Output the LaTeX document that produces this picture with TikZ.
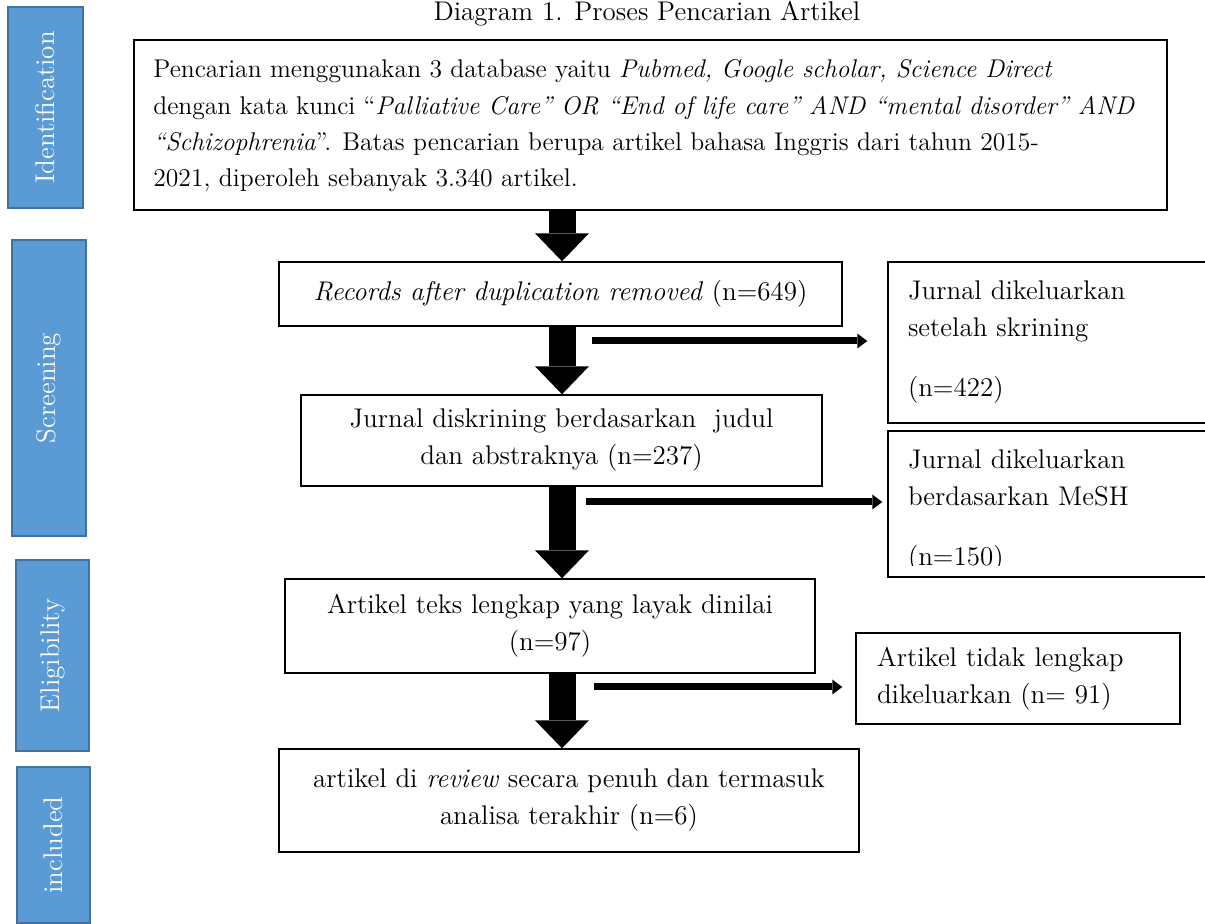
\documentclass[tikz,border=0pt]{standalone}
\usetikzlibrary{arrows.meta}

\definecolor{sidefill}{RGB}{91,155,213}
\definecolor{sideline}{RGB}{65,113,156}

\begin{document}
\begin{tikzpicture}[
            x = 0.5pt, y = -0.5pt,
            every node/.style = {font = \fontsize{13.5}{18.5}\selectfont},
            box/.style = {
                draw, line width = 0.7pt,
                inner sep = 0pt,
                align = center,
            },
            sidebox/.style = {
                draw = sideline, fill = sidefill,
                line width = 1pt, text = white,
                rotate = 90, inner sep = 0pt,
            },
            bigarrow/.style = {
                line width = 13.5pt,
                -{Triangle[length = 14pt, width = 27pt, line width = 0pt]}
            },
            thinarrow/.style = {
                line width = 3.5pt,
                -{Triangle[length = 5pt, width = 7.5pt, line width = 0pt]}
            },
        ]
        \useasboundingbox (0,0) rectangle (1205,924);

        % Tahap
        \node[sidebox, minimum width = 100.5pt, minimum height = 37.5pt] (identification) at (45.5,107.5) {Identification};
        \node[sidebox, minimum width = 148pt, minimum height = 37pt] (screening) at (49,388) {Screening};
        \node[sidebox, minimum width = 95.5pt, minimum height = 36.5pt] (eligibility) at (52.5,655.5) {Eligibility};
        \node[sidebox, minimum width = 78pt, minimum height = 36.5pt] (includedstage) at (53.5,845) {included};

        % Judul
        \node[anchor = base] (title) at (647,21) {Diagram 1. Proses Pencarian Artikel};

        % Kotak utama
        \node[box, minimum width = 516.5pt, minimum height = 85pt] (search) at (650.5,125) {};
        \node[anchor = west, align = left, inner sep = 0pt, font = \fontsize{12.8}{18.2}\selectfont] (searchtext) at (153,126) {Pencarian menggunakan 3 database yaitu \textit{Pubmed, Google scholar, Science Direct}\\
            dengan kata kunci “\textit{Palliative Care” OR “End of life care” AND “mental disorder” AND}\\
            \textit{“Schizophrenia}”. Batas pencarian berupa artikel bahasa Inggris dari tahun 2015-\\
            2021, diperoleh sebanyak 3.340 artikel.};
        \node[box, minimum width = 281.5pt, minimum height = 32pt] (records) at (560.5,294) {\textit{Records after duplication removed} (n=649)};
        \node[box, minimum width = 260.5pt, minimum height = 45.5pt] (screened) at (561.5,440.5) {Jurnal diskrining berdasarkan\ \ judul\\ dan abstraknya (n=237)};
        \node[box, minimum width = 265pt, minimum height = 47pt] (fulltext) at (550,626) {Artikel teks lengkap yang layak dinilai\\ (n=97)};
        \node[box, minimum width = 290pt, minimum height = 51.5pt] (final) at (569,800.5) {artikel di \textit{review} secara penuh dan termasuk\\ analisa terakhir (n=6)};

        % Kotak dikeluarkan
        \node[box, align = left, text width = 143.5pt, minimum width = 163.5pt, minimum height = 80.5pt] (exclscreen) at (1051.5,342.5) {Jurnal dikeluarkan\\ setelah skrining\\[11.5pt] (n=422)};
        \node[box, minimum width = 163.5pt, minimum height = 73pt] (exclmesh) at (1051.5,504) {};
        \begin{scope}
            \clip (888,431) rectangle (1215,566);
            \node[align = left, text width = 143.5pt, inner sep = 0pt] (exclmeshtext) at (1051.5,511) {Jurnal dikeluarkan\\ berdasarkan MeSH\\[11.5pt] (n=150)};
        \end{scope}
        \node[box, align = left, text width = 141pt, minimum width = 162pt, minimum height = 45.5pt] (exclfull) at (1018,678.5) {Artikel tidak lengkap\\ dikeluarkan (n= 91)};

        % Panah
        \coordinate (spine) at (562,0);
        \draw[bigarrow] (search.south -| spine) -- (records.north -| spine);
        \draw[bigarrow] (records.south -| spine) -- (screened.north -| spine);
        \draw[bigarrow] (screened.south -| spine) -- (fulltext.north -| spine);
        \draw[bigarrow] (fulltext.south -| spine) -- (final.north -| spine);

        \coordinate (out1) at (592,341);
        \coordinate (out2) at (586,502);
        \coordinate (out3) at (594,687);
        \draw[thinarrow, shorten >= 10pt] (out1) -- (out1 -| exclscreen.west);
        \draw[thinarrow, shorten >= 2.5pt] (out2) -- (out2 -| exclmesh.west);
        \draw[thinarrow, shorten >= 6.5pt] (out3) -- (out3 -| exclfull.west);

    \end{tikzpicture}
\end{document}
